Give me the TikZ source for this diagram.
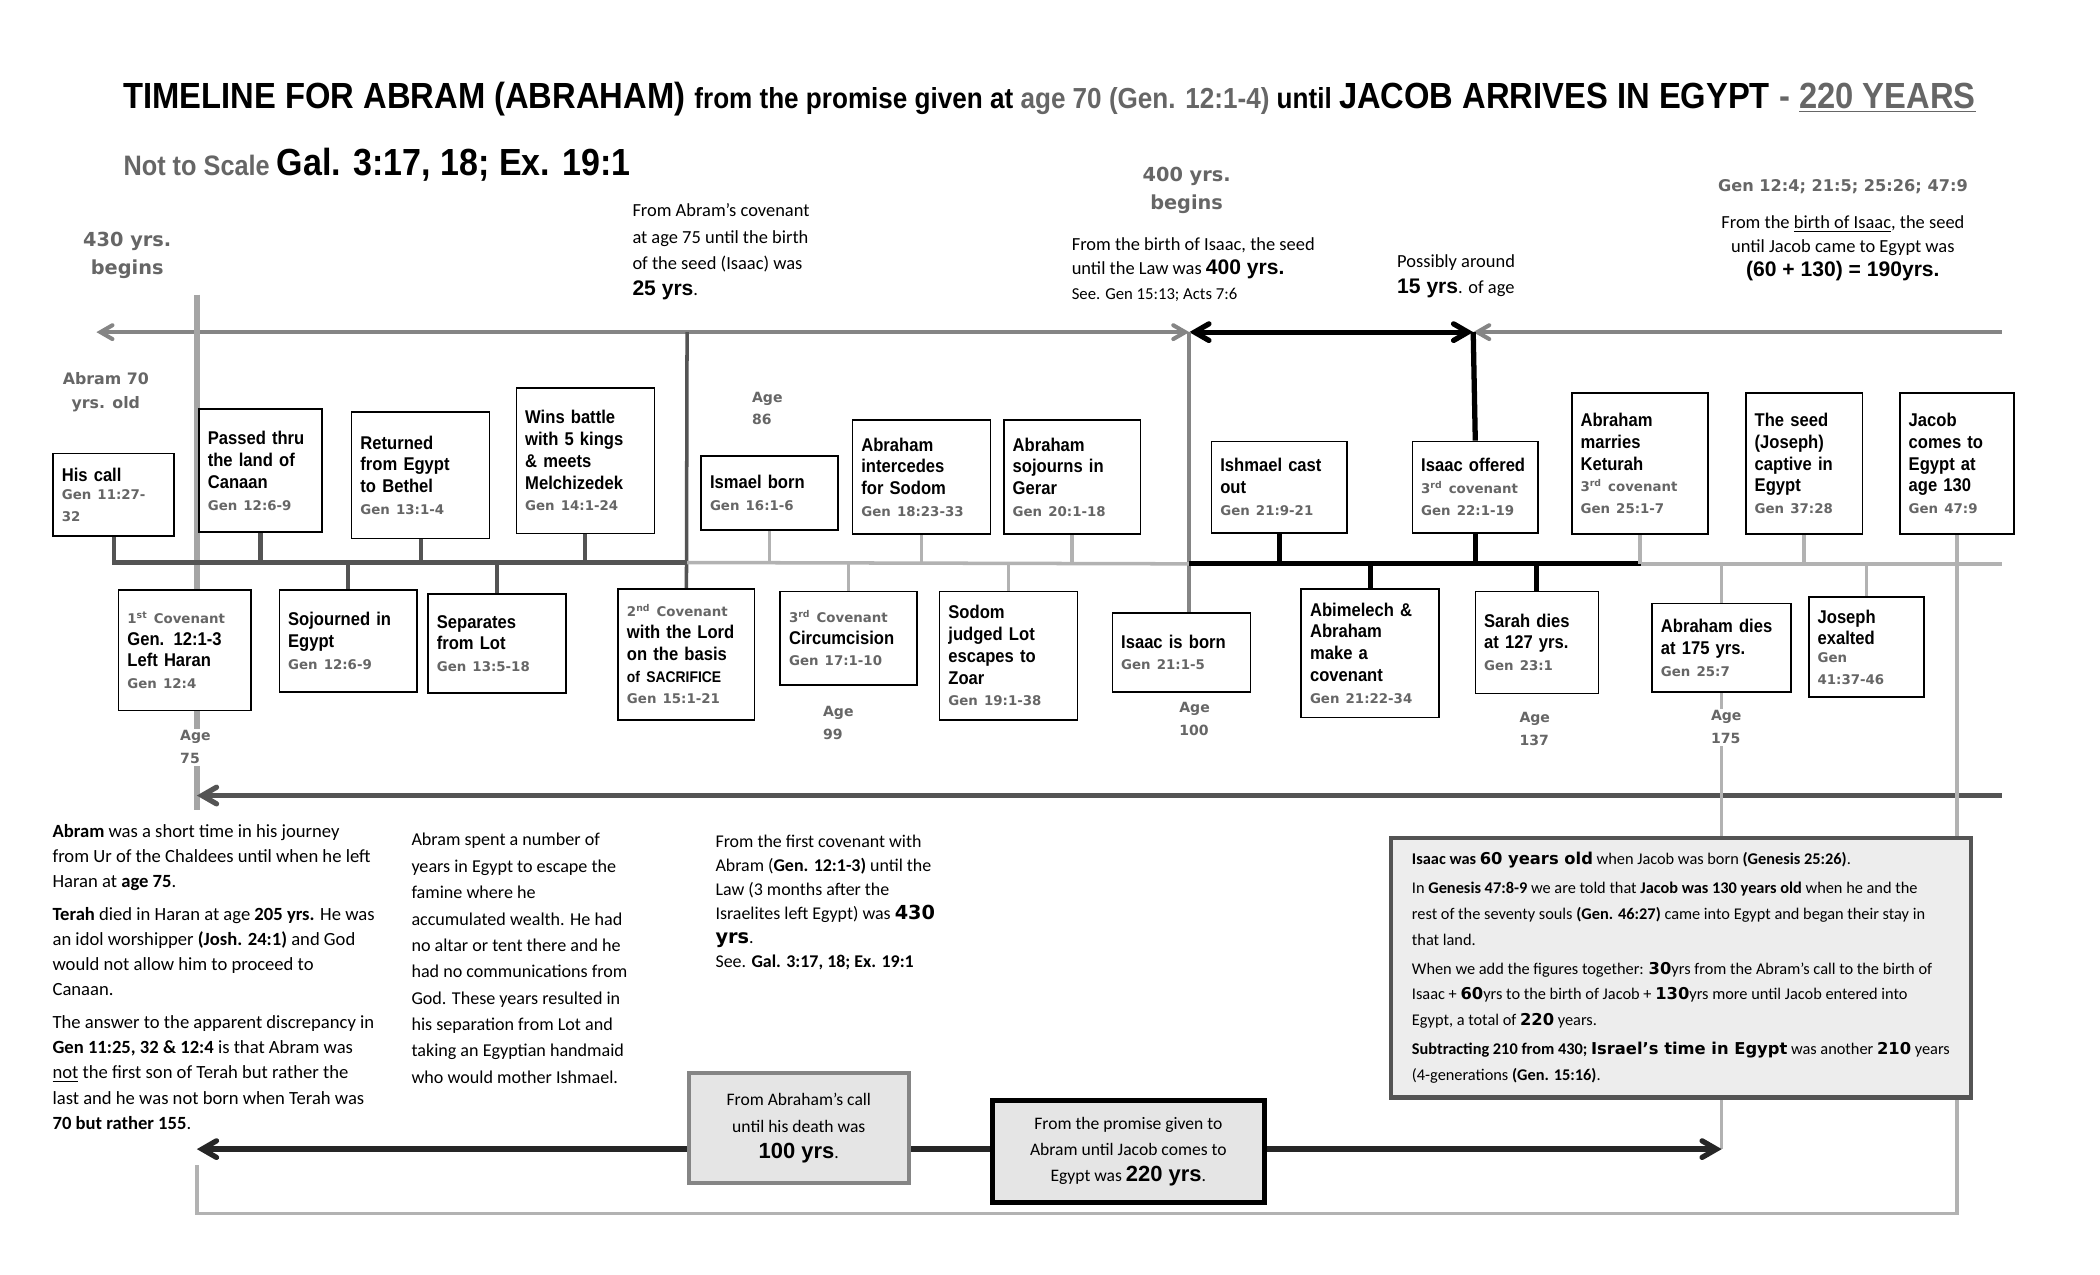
\documentclass[tikz,border=0pt]{standalone}
\usepackage{fontspec}
\setmainfont{Carlito}
\newfontfamily\narrowfont[FakeStretch=0.9]{Liberation Sans}
\newfontfamily\widefont{DejaVu Sans}
\newfontfamily\arialfont{Liberation Sans}
\usepackage{tikz}
\usetikzlibrary{arrows, backgrounds}

\definecolor{darkline}{gray}{0.33}
\definecolor{midline}{gray}{0.52}
\definecolor{lightline}{gray}{0.7}
\definecolor{reftext}{gray}{0.4}
\definecolor{sumfill}{gray}{0.9}

\newcommand{\gen}[1]{{\widefont\bfseries\fontsize{7.6}{10}\selectfont\color{reftext}#1}}
\newcommand{\yrs}[1]{{\arialfont\bfseries\fontsize{12}{12}\selectfont #1}}
\newcommand{\wb}[1]{{\widefont\bfseries #1}}

\begin{document}
\begin{tikzpicture}[x=0.0268cm, y=-0.0268cm, >=angle 60,
  event node/.style={draw, line width=0.9pt, fill=white, anchor=north west, align=left,
    inner xsep=5pt, inner ysep=2pt, font=\narrowfont\bfseries\fontsize{10.5}{12.4}\selectfont},
  age node/.style={anchor=north west, align=left, fill=white, inner sep=1pt, text=reftext,
    font=\widefont\bfseries\fontsize{8}{13}\selectfont},
  begin node/.style={align=center, text=reftext, font=\widefont\bfseries\fontsize{11}{16}\selectfont},
  note node/.style={anchor=north west, align=left, inner sep=0pt, font=\fontsize{10.5}{15}\selectfont},
  para node/.style={anchor=north west, align=left, inner sep=0pt, font=\fontsize{10.6}{14.4}\selectfont},
  sum node/.style={anchor=north west, align=center, fill=sumfill, line width=2.2pt,
    font=\fontsize{10}{15}\selectfont},
  dark link/.style={draw=darkline, line width=2.3pt},
  gray link/.style={draw=midline, line width=2.3pt},
  light link/.style={draw=lightline, line width=2pt},
  black link/.style={draw=black, line width=3pt}]

\useasboundingbox (0,0) rectangle (1568,952);

% headings
\node[anchor=base west, inner sep=0pt, font=\narrowfont\bfseries] (title) at (92,81)
  {\fontsize{20.7}{24}\selectfont TIMELINE FOR ABRAM (ABRAHAM) \fontsize{16.5}{20}\selectfont from the promise given at {\color{reftext}age 70 (Gen. 12:1-4)} until \fontsize{20.7}{24}\selectfont JACOB ARRIVES IN EGYPT {\color{reftext}- \underline{220 YEARS}}};
\node[anchor=base west, inner sep=0pt, font=\narrowfont\bfseries] (scale) at (92,131)
  {{\color{reftext}\fontsize{16}{20}\selectfont Not to Scale}\hspace{4pt}\fontsize{21.5}{24}\selectfont Gal. 3:17, 18; Ex. 19:1};

\node[begin node] (beg430) at (95,191) {430 yrs.\\begins};
\node[begin node] (beg400) at (886,142) {400 yrs.\\begins};
\node[begin node, font=\widefont\bfseries\fontsize{9}{13.5}\selectfont] (abram70) at (79,293) {Abram 70\\yrs. old};

\node[note node] (note25) at (472,152) {From Abram’s covenant\\at age 75 until the birth\\of the seed (Isaac) was\\\yrs{25 yrs}.};
\node[note node, font=\fontsize{10.5}{14}\selectfont] (note400) at (800,177)
  {From the birth of Isaac, the seed\\until the Law was \yrs{400 yrs.}\\{\fontsize{9.5}{12}\selectfont See. Gen 15:13; Acts 7:6}};
\node[note node, font=\fontsize{10.5}{14.5}\selectfont] (note15) at (1043,190) {Possibly around\\\yrs{15 yrs}. of age};
\node[anchor=base, inner sep=0pt, text=reftext, font=\widefont\bfseries\fontsize{9.2}{11}\selectfont] (refs) at (1376,143)
  {Gen 12:4; 21:5; 25:26; 47:9};
\node[note node, anchor=north, align=center, font=\fontsize{10.5}{13.5}\selectfont] (note190) at (1376,161)
  {From the \underline{birth of Isaac}, the seed\\until Jacob came to Egypt was\\\yrs{(60 + 130) = 190yrs.}};

% line ends
\coordinate (topL) at (72,248);
\coordinate (top25) at (513,248);
\coordinate (top400) at (888,248);
\coordinate (top15) at (1100,248);
\coordinate (topR) at (1495,248);
\coordinate (call75) at (147,220);
\coordinate (end75) at (147,605);
\coordinate (midL) at (82,420);
\coordinate (mid25) at (513,420);
\coordinate (mid400) at (888,421);
\coordinate (mid175) at (1225,421);
\coordinate (midR) at (1495,421);
\coordinate (lowL) at (147,594);
\coordinate (lowR) at (1495,594);
\coordinate (spanL) at (147,858);
\coordinate (brL) at (147,870);
\coordinate (brB) at (147,906);

% events above the line
\node[event node, text width=59pt, minimum height=47pt] (call) at (39,338) {His call\\\gen{Gen 11:27-\\32}};
\node[event node, text width=60pt, minimum height=70pt] (canaan) at (148,305) {Passed thru\\the land of\\Canaan\\\gen{Gen 12:6-9}};
\node[event node, text width=68.5pt, minimum height=72pt] (bethel) at (262,307) {Returned\\from Egypt\\to Bethel\\\gen{Gen 13:1-4}};
\node[event node, text width=68.5pt, minimum height=83pt] (kings) at (385,289) {Wins battle\\with 5 kings\\\& meets\\Melchizedek\\\gen{Gen 14:1-24}};
\node[event node, text width=67.7pt, minimum height=42pt] (ismael) at (523,340) {Ismael born\\\gen{Gen 16:1-6}};
\node[event node, text width=68.5pt, minimum height=65pt] (sodom) at (636,313) {Abraham\\intercedes\\for Sodom\\\gen{Gen 18:23-33}};
\node[event node, text width=67.7pt, minimum height=65pt] (gerar) at (749,313) {Abraham\\sojourns in\\Gerar\\\gen{Gen 20:1-18}};
\node[event node, text width=67pt, minimum height=52pt] (castout) at (904,329) {Ishmael cast\\out\\\gen{Gen 21:9-21}};
\node[event node, text width=61.6pt, minimum height=52pt] (offered) at (1054,329) {Isaac offered\\\gen{3\textsuperscript{rd} covenant}\\\gen{Gen 22:1-19}};
\node[event node, text width=67.7pt, minimum height=80pt] (keturah) at (1173,293) {Abraham\\marries\\Keturah\\\gen{3\textsuperscript{rd} covenant}\\\gen{Gen 25:1-7}};
\node[event node, text width=56.3pt, minimum height=80pt] (captive) at (1303,293) {The seed\\(Joseph)\\captive in\\Egypt\\\gen{Gen 37:28}};
\node[event node, text width=54.8pt, minimum height=80pt] (jacob) at (1418,293) {Jacob\\comes to\\Egypt at\\age 130\\\gen{Gen 47:9}};

% events below the line
\node[event node, text width=65.4pt, minimum height=68.6pt] (cov1) at (88,440) {\gen{1\textsuperscript{st} Covenant}\\Gen. 12:1-3\\Left Haran\\\gen{Gen 12:4}};
\node[event node, text width=68.5pt, minimum height=58pt] (egypt) at (208,440) {Sojourned in\\Egypt\\\gen{Gen 12:6-9}};
\node[event node, text width=68.5pt, minimum height=56.4pt] (lot) at (319,443) {Separates\\from Lot\\\gen{Gen 13:5-18}};
\node[event node, text width=67.7pt, minimum height=74.7pt] (cov2) at (461,439) {\gen{2\textsuperscript{nd} Covenant}\\with the Lord\\on the basis\\{\fontsize{8.8}{10}\selectfont of SACRIFICE}\\\gen{Gen 15:1-21}};
\node[event node, text width=67.7pt, minimum height=53.3pt] (cov3) at (582,441) {\gen{3\textsuperscript{rd} Covenant}\\Circumcision\\\gen{Gen 17:1-10}};
\node[event node, text width=68.5pt, minimum height=73.2pt] (zoar) at (701,441) {Sodom\\judged Lot\\escapes to\\Zoar\\\gen{Gen 19:1-38}};
\node[event node, text width=68.5pt, minimum height=45pt] (isaacborn) at (830,457) {Isaac is born\\\gen{Gen 21:1-5}};
\node[event node, text width=68.5pt, minimum height=73.2pt] (abimelech) at (971,439) {Abimelech \&\\Abraham\\make a\\covenant\\\gen{Gen 21:22-34}};
\node[event node, text width=60pt, minimum height=58pt] (sarah) at (1101,441) {Sarah dies\\at 127 yrs.\\\gen{Gen 23:1}};
\node[event node, text width=69.2pt, minimum height=50.3pt] (abrdies) at (1233,450) {Abraham dies\\at 175 yrs.\\\gen{Gen 25:7}};
\node[event node, text width=55.5pt, minimum height=57.2pt] (joseph) at (1350,445) {Joseph\\exalted\\\gen{Gen\\41:37-46}};

% ages
\node[age node] (age75) at (133,544) {Age\\75};
\node[age node] (age86) at (560,291) {Age\\86};
\node[age node] (age99) at (613,526) {Age\\99};
\node[age node] (age100) at (879,523) {Age\\100};
\node[age node] (age137) at (1133,530) {Age\\137};
\node[age node] (age175) at (1276,529) {Age\\175};

% notes below
\node[para node] (abramtext) at (39,615) {\textbf{Abram} was a short time in his journey\\from Ur of the Chaldees until when he left\\Haran at \textbf{age 75}.\\[4pt]\textbf{Terah} died in Haran at age \textbf{205 yrs.} He was\\an idol worshipper \textbf{(Josh. 24:1)} and God\\would not allow him to proceed to\\Canaan.\\[4pt]The answer to the apparent discrepancy in\\\textbf{Gen 11:25, 32 \& 12:4} is that Abram was\\\underline{not} the first son of Terah but rather the\\last and he was not born when Terah was\\\textbf{70 but rather 155}.};
\node[para node, font=\fontsize{10.3}{15}\selectfont] (egypttext) at (307,622) {Abram spent a number of\\years in Egypt to escape the\\famine where he\\accumulated wealth. He had\\no altar or tent there and he\\had no communications from\\God. These years resulted in\\his separation from Lot and\\taking an Egyptian handmaid\\who would mother Ishmael.};
\node[para node, font=\fontsize{10.2}{13.7}\selectfont] (lawtext) at (534,623) {From the first covenant with\\Abram (\textbf{Gen. 12:1-3)} until the\\Law (3 months after the\\Israelites left Egypt) was \wb{\fontsize{11}{13}\selectfont 430}\\\wb{\fontsize{11}{13}\selectfont yrs}.\\See. \textbf{Gal. 3:17, 18; Ex. 19:1}};

\node[anchor=north west, draw=darkline, line width=2.5pt, fill=sumfill!70, align=left,
  minimum width=330pt, minimum height=147.8pt, font=\fontsize{9.3}{14.6}\selectfont] (info) at (1037,624)
  {\textbf{Isaac was} \wb{60 years old} when Jacob was born \textbf{(Genesis 25:26)}.\\[2pt]
   In \textbf{Genesis 47:8-9} we are told that \textbf{Jacob was 130 years old} when he and the\\
   rest of the seventy souls \textbf{(Gen. 46:27)} came into Egypt and began their stay in\\
   that land.\\[2pt]
   When we add the figures together: \wb{30}yrs from the Abram’s call to the birth of\\
   Isaac + \wb{60}yrs to the birth of Jacob + \wb{130}yrs more until Jacob entered into\\
   Egypt, a total of \wb{220} years.\\[2pt]
   \textbf{Subtracting 210 from 430;} \wb{Israel’s time in Egypt} was another \wb{210} years\\
   (4-generations \textbf{(Gen. 15:16)}.};

\node[sum node, draw=midline, minimum width=125pt, minimum height=62.5pt] (call100) at (513,800)
  {From Abraham’s call\\until his death was\\{\arialfont\bfseries\fontsize{12.5}{14}\selectfont 100 yrs}.};
\node[sum node, draw=black, line width=2.8pt, minimum width=155pt, minimum height=58pt] (promise220) at (739,820)
  {From the promise given to\\Abram until Jacob comes to\\Egypt was {\arialfont\bfseries\fontsize{12.5}{14}\selectfont 220 yrs}.};

\begin{pgfonlayer}{background}
  \fill[white] (0,0) rectangle (1568,952);
  % top line
  \draw[gray link, <->] (topL) -- (top400);
  \draw[black link, <->] (top400) -- (top15);
  \draw[gray link, <-] (top15) -- (topR);
  \draw[gray link, draw=lightline!70!midline, line width=3pt] (call75) -- (end75);
  \draw[dark link, line width=2pt] (top25) -- (cov2.north);
  \draw[gray link] (top400) -- (top400 |- isaacborn.north);
  \draw[black link] (top15) -- (offered.north);
  % middle line
  \draw[dark link] (call.south) -- (call.south |- midL) -- (mid25);
  \draw[dark link] (canaan.south) -- (canaan.south |- midL);
  \draw[dark link] (bethel.south) -- (bethel.south |- midL);
  \draw[dark link] (kings.south) -- (kings.south |- midL);
  \draw[dark link] (egypt.north) -- (egypt.north |- midL);
  \draw[dark link] (lot.north) -- (lot.north |- midL);
  \draw[light link] (mid25) -- (mid400);
  \draw[light link] (ismael.south) -- (ismael.south |- mid25);
  \draw[light link] (sodom.south) -- (sodom.south |- mid25);
  \draw[light link] (gerar.south) -- (gerar.south |- mid25);
  \draw[light link] (cov3.north) -- (cov3.north |- mid25);
  \draw[light link] (zoar.north) -- (zoar.north |- mid25);
  \draw[black link] (mid400) -- (mid175);
  \draw[black link] (offered.south) -- (offered.south |- mid400);
  \draw[black link] (castout.south) -- (castout.south |- mid400);
  \draw[black link] (abimelech.north) -- (abimelech.north |- mid400);
  \draw[black link] (sarah.north) -- (sarah.north |- mid400);
  \draw[light link] (mid175) -- (midR);
  \draw[light link] (keturah.south) -- (keturah.south |- midR);
  \draw[light link] (captive.south) -- (captive.south |- midR);
  \draw[light link] (joseph.north) -- (joseph.north |- midR);
  \draw[light link] (abrdies.north) -- (abrdies.north |- midR);
  % lower lines
  \draw[dark link, line width=3pt, <-] (lowL) -- (lowR);
  \draw[light link] (abrdies.south) -- (abrdies.south |- spanL);
  \draw[light link] (jacob.south) -- (jacob.south |- brB) -- (brB) -- (brL);
  \draw[black link, draw=black!85, <->] (spanL) -- (abrdies.south |- spanL);
\end{pgfonlayer}
\end{tikzpicture}
\end{document}
